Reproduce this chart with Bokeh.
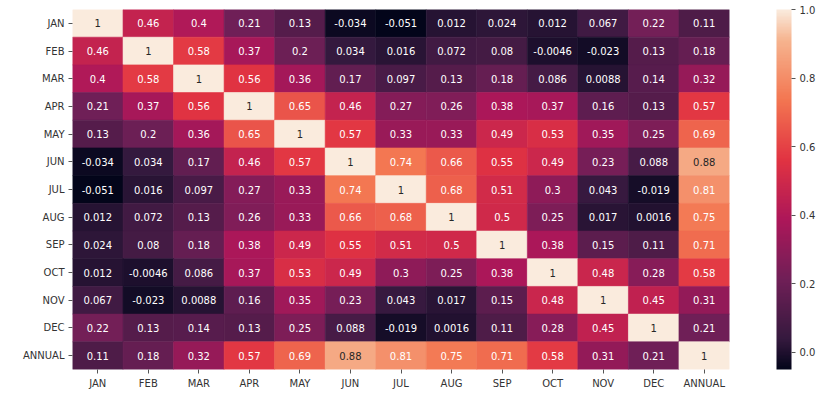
from bokeh.plotting import figure
from bokeh.models import ColumnDataSource, ColorBar, LinearColorMapper, FixedTicker, PrintfTickFormatter, FactorRange
from bokeh.embed import file_html
from bokeh.resources import INLINE
from bokeh.core.properties import value

labels = ["JAN", "FEB", "MAR", "APR", "MAY", "JUN", "JUL", "AUG", "SEP", "OCT", "NOV", "DEC", "ANNUAL"]

jan    = [1, 0.46, 0.4, 0.21, 0.13, -0.034, -0.051, 0.012, 0.024, 0.012, 0.067, 0.22, 0.11]
feb    = [0.46, 1, 0.58, 0.37, 0.2, 0.034, 0.016, 0.072, 0.08, -0.0046, -0.023, 0.13, 0.18]
mar    = [0.4, 0.58, 1, 0.56, 0.36, 0.17, 0.097, 0.13, 0.18, 0.086, 0.0088, 0.14, 0.32]
apr    = [0.21, 0.37, 0.56, 1, 0.65, 0.46, 0.27, 0.26, 0.38, 0.37, 0.16, 0.13, 0.57]
may    = [0.13, 0.2, 0.36, 0.65, 1, 0.57, 0.33, 0.33, 0.49, 0.53, 0.35, 0.25, 0.69]
jun    = [-0.034, 0.034, 0.17, 0.46, 0.57, 1, 0.74, 0.66, 0.55, 0.49, 0.23, 0.088, 0.88]
jul    = [-0.051, 0.016, 0.097, 0.27, 0.33, 0.74, 1, 0.68, 0.51, 0.3, 0.043, -0.019, 0.81]
aug    = [0.012, 0.072, 0.13, 0.26, 0.33, 0.66, 0.68, 1, 0.5, 0.25, 0.017, 0.0016, 0.75]
sep    = [0.024, 0.08, 0.18, 0.38, 0.49, 0.55, 0.51, 0.5, 1, 0.38, 0.15, 0.11, 0.71]
oct_   = [0.012, -0.0046, 0.086, 0.37, 0.53, 0.49, 0.3, 0.25, 0.38, 1, 0.48, 0.28, 0.58]
nov    = [0.067, -0.023, 0.0088, 0.16, 0.35, 0.23, 0.043, 0.017, 0.15, 0.48, 1, 0.45, 0.31]
dec    = [0.22, 0.13, 0.14, 0.13, 0.25, 0.088, -0.019, 0.0016, 0.11, 0.28, 0.45, 1, 0.21]
annual = [0.11, 0.18, 0.32, 0.57, 0.69, 0.88, 0.81, 0.75, 0.71, 0.58, 0.31, 0.21, 1]

rows = [jan, feb, mar, apr, may, jun, jul, aug, sep, oct_, nov, dec, annual]

cbar_ticks = [0.0, 0.2, 0.4, 0.6, 0.8, 1.0]

# rocket-like colormap
anchors = [(0.0, "#03051a"), (1/12, "#35193e"), (3/12, "#701f57"), (5/12, "#ad1759"),
           (7/12, "#e13342"), (9/12, "#f37651"), (11/12, "#f6b48f"), (1.0, "#faebdd")]

def hex2rgb(h):
    return tuple(int(h[i:i+2], 16) for i in (1, 3, 5))

def interp(t):
    for (t0, c0), (t1, c1) in zip(anchors[:-1], anchors[1:]):
        if t <= t1:
            f = (t - t0) / (t1 - t0) if t1 > t0 else 0
            a, b = hex2rgb(c0), hex2rgb(c1)
            return tuple(round(a[k] + (b[k] - a[k]) * f) for k in range(3))
    return hex2rgb(anchors[-1][1])

palette = ["#%02x%02x%02x" % interp(i / 255) for i in range(256)]

all_vals = [v for r in rows for v in r]
vmin, vmax = min(all_vals), max(all_vals)

def lum(rgb):
    out = []
    for c in rgb:
        c = c / 255
        out.append(c / 12.92 if c <= 0.03928 else ((c + 0.055) / 1.055) ** 2.4)
    return 0.2126 * out[0] + 0.7152 * out[1] + 0.0722 * out[2]

xs, ys, vals, txt, colors, tcolors = [], [], [], [], [], []
for rl, r in zip(labels, rows):
    for cl, v in zip(labels, r):
        xs.append(cl); ys.append(rl); vals.append(v)
        txt.append(format(v, ".2g"))
        idx = int(round((v - vmin) / (vmax - vmin) * 255))
        col = palette[idx]
        colors.append(col)
        tcolors.append("#262626" if lum(hex2rgb(col)) > 0.408 else "#ffffff")

src = ColumnDataSource(dict(x=xs, y=ys, v=vals, t=txt, c=colors, tc=tcolors))

p = figure(x_range=FactorRange(*labels), y_range=FactorRange(*labels[::-1]),
           frame_width=657, frame_height=360, output_backend="svg", toolbar_location=None,
           min_border_left=72, min_border_top=9, min_border_right=0, min_border_bottom=0)
p.rect(x="x", y="y", width=1, height=1, source=src, fill_color="c", line_color="c", line_width=0.6)
p.text(x="x", y="y", text="t", source=src, text_color="tc", text_align="center",
       text_baseline="middle", text_font_size="10px", text_font=value("DejaVu Sans"))

p.grid.visible = False
p.outline_line_color = None
for ax in (p.xaxis, p.yaxis):
    ax.axis_line_color = None
    ax.major_tick_in = 0
    ax.major_tick_out = 4
    ax.major_tick_line_color = "#555555"
    ax.minor_tick_line_color = None
    ax.major_label_text_font = "DejaVu Sans"
    ax.major_label_text_font_size = "10px"
    ax.major_label_text_color = "#333333"
    ax.major_label_standoff = 4

mapper = LinearColorMapper(palette=palette, low=vmin, high=vmax)
cb = ColorBar(color_mapper=mapper, ticker=FixedTicker(ticks=cbar_ticks),
              formatter=PrintfTickFormatter(format="%.1f"), width=15, height=360,
              padding=0, margin=0, location=(47, 0), bar_line_color=None,
              major_tick_in=0, major_tick_out=4, major_tick_line_color="#555555",
              minor_tick_line_color=None, label_standoff=4,
              major_label_text_font="DejaVu Sans", major_label_text_font_size="10px",
              major_label_text_color="#333333", background_fill_color=None, border_line_color=None)
p.add_layout(cb, "right")

open("out.html", "w").write(file_html(p, INLINE))
